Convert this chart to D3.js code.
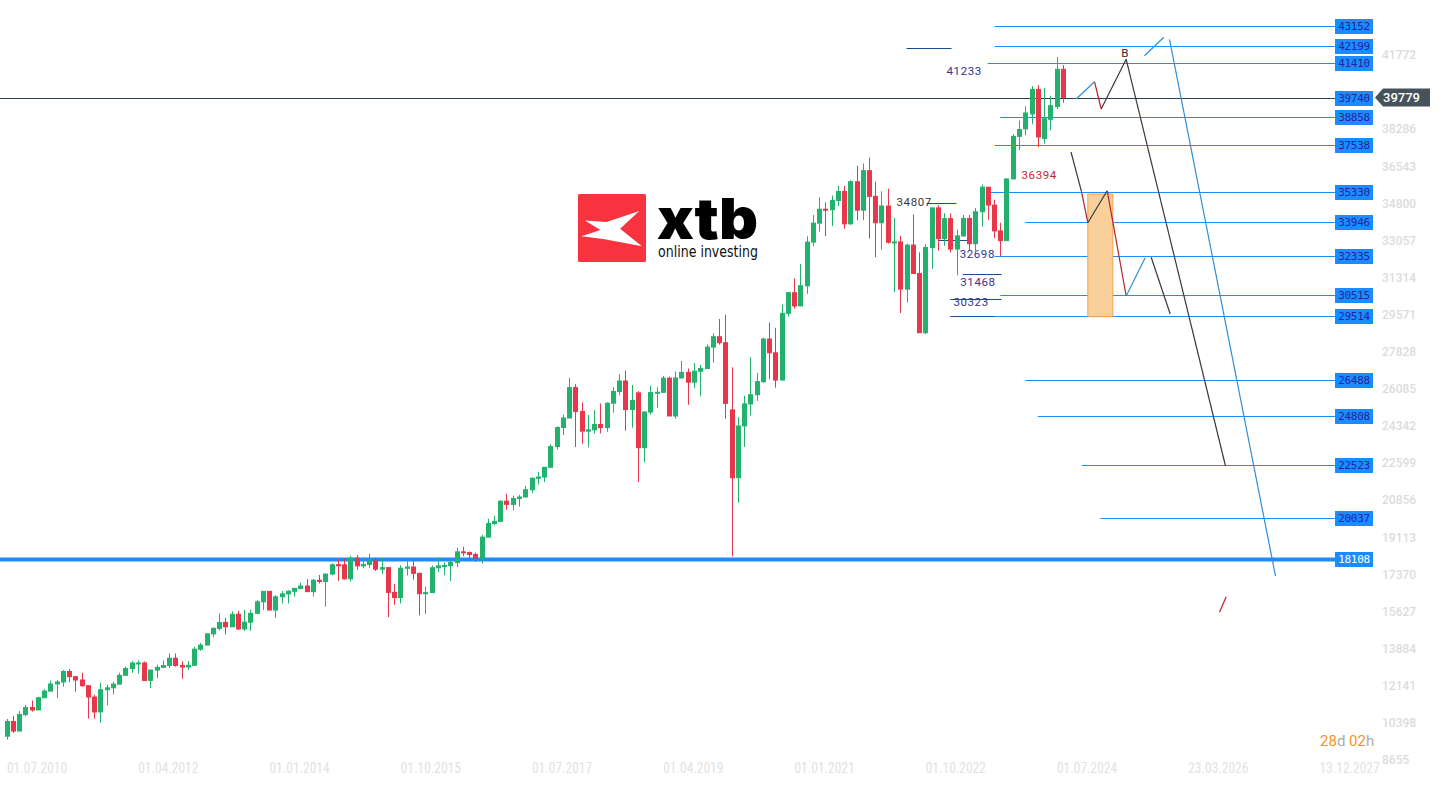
<!DOCTYPE html>
<html>
<head>
<meta charset="utf-8">
<script src="https://cdn.jsdelivr.net/npm/d3@7/dist/d3.min.js"></script>
<style>
  html, body { margin: 0; padding: 0; background: #fff; overflow: hidden; }
  svg { display: block; }
</style>
</head>
<body>
<svg width="1442" height="786"></svg>
<script>
// monthly candles, first bar = July 2010, last bar = August 2024
var opens = [
  9774, 10466, 10015, 10788, 11118, 11006,
  11578, 11892, 12226, 12320, 12811, 12570, 12414, 12143, 11614, 10913, 11955, 12046,
  12218, 12633, 12952, 13212, 13214, 12393, 12880, 13009, 13091, 13437, 13096, 13026,
  13104, 13861, 14054, 14579, 14840, 15116, 14910, 15500, 14810, 15130, 15546, 16086,
  16577, 15699, 16322, 16458, 16581, 16717, 16827, 16563, 17098, 17043, 17391, 17828,
  17823, 17165, 18133, 17776, 17841, 18011, 17620, 17690, 16528, 16285, 17664, 17720,
  17425, 16466, 16517, 17685, 17774, 17787, 17930, 18432, 18401, 18308, 18142, 19124,
  19763, 19864, 20812, 20663, 20941, 21009, 21350, 21891, 21948, 22405, 23377, 24272,
  24719, 26149, 25029, 24103, 24163, 24416, 24271, 25415, 25965, 26458, 25116, 25900,
  23327, 24999, 25916, 25929, 26593, 24815, 26600, 26864, 26403, 26917, 27046, 28051,
  28538, 28256, 25100, 21917, 24346, 25383, 25813, 26428, 28430, 27782, 26502, 29638,
  30606, 29983, 30932, 32982, 33875, 34529, 34503, 34935, 35361, 33844, 35820, 34484,
  36338, 35132, 33893, 34678, 32977, 32990, 30775, 32845, 31510, 28726, 32733, 34590,
  33147, 34086, 32657, 33274, 34098, 32908, 34408, 35560, 34722, 33508, 33053, 35951,
  37950, 38300, 39000, 40150, 37850, 38750, 39350, 41100
];
var highs = [
  10584, 10720, 10948, 11245, 11451, 11625,
  11980, 12391, 12419, 12876, 12929, 12570, 12753, 12143, 11716, 12284, 12187, 12328,
  12756, 13056, 13290, 13338, 13280, 12898, 13134, 13330, 13653, 13662, 13290, 13307,
  13969, 14150, 14586, 14888, 15542, 15340, 15634, 15658, 15709, 15721, 16174, 16588,
  16588, 16398, 16588, 16631, 16735, 16978, 17151, 17153, 17350, 17395, 17895, 18103,
  18121, 18244, 18289, 18175, 18351, 18157, 18138, 17716, 16933, 17799, 17978, 17996,
  17425, 16795, 17790, 18168, 17934, 18016, 18622, 18668, 18450, 18399, 19225, 19988,
  20126, 20851, 21169, 21070, 21113, 21535, 21929, 22179, 22420, 23485, 24328, 24876,
  26617, 26307, 25449, 24858, 25086, 25402, 25461, 26168, 26769, 26951, 26277, 25980,
  25040, 26241, 26156, 26696, 26667, 26907, 27398, 27046, 27306, 27218, 28175, 28701,
  29374, 29568, 27102, 24764, 25758, 27581, 26838, 28502, 29199, 28958, 30046, 30637,
  31272, 31961, 33259, 34257, 35091, 34849, 35171, 35631, 35631, 35892, 36565, 36679,
  36952, 35824, 35372, 35492, 34118, 33272, 32910, 34281, 32504, 32889, 34590, 34712,
  34342, 34334, 33572, 34257, 34257, 34588, 35679, 35579, 34978, 33893, 35953, 38050,
  38690, 39360, 40310, 40360, 40220, 39860, 41670, 41300
];
var lows = [
  9614, 9936, 10015, 10711, 10929, 11006,
  11578, 11892, 11555, 12093, 12311, 11862, 12093, 10604, 10597, 10404, 11231, 11735,
  12218, 12633, 12748, 12710, 12392, 12035, 12492, 12977, 12978, 13036, 12471, 12883,
  13104, 13784, 14054, 14434, 14740, 14552, 14910, 14760, 14719, 14719, 15509, 15703,
  15698, 15340, 16015, 16015, 16334, 16675, 16563, 16334, 16945, 15855, 17327, 17068,
  17136, 17038, 17585, 17658, 17684, 17535, 17399, 15370, 15942, 16013, 17320, 17128,
  15451, 15503, 16506, 17484, 17331, 17063, 17713, 18231, 17992, 17959, 17884, 19102,
  19678, 19831, 20413, 20379, 20554, 20997, 21197, 21600, 21709, 22405, 23242, 23921,
  24719, 23360, 23509, 23344, 23997, 23997, 24078, 24965, 25788, 24123, 24268, 21713,
  22639, 24883, 25208, 25890, 24815, 24680, 26600, 25339, 26120, 25743, 27046, 27325,
  28169, 24681, 18214, 20735, 23361, 24843, 25524, 26365, 26537, 26144, 26502, 29484,
  29857, 29983, 30548, 32787, 33473, 33271, 33741, 34680, 33613, 33785, 34006, 34006,
  33150, 32273, 32632, 32913, 30636, 29653, 30143, 31480, 28715, 28660, 31727, 32573,
  32812, 32500, 31429, 33235, 32586, 32553, 33705, 34029, 33169, 32327, 33053, 35951,
  37300, 38000, 38520, 37450, 37600, 38230, 39230, 39530
];
var closes = [
  10466, 10015, 10788, 11118, 11006, 11578,
  11892, 12226, 12320, 12811, 12570, 12414, 12143, 11614, 10913, 11955, 12046, 12218,
  12633, 12952, 13212, 13214, 12393, 12880, 13009, 13091, 13437, 13096, 13026, 13104,
  13861, 14054, 14579, 14840, 15116, 14910, 15500, 14810, 15130, 15546, 16086, 16577,
  15699, 16322, 16458, 16581, 16717, 16827, 16563, 17098, 17043, 17391, 17828, 17823,
  17165, 18133, 17776, 17841, 18011, 17620, 17690, 16528, 16285, 17664, 17720, 17425,
  16466, 16517, 17685, 17774, 17787, 17930, 18432, 18401, 18308, 18142, 19124, 19763,
  19864, 20812, 20663, 20941, 21009, 21350, 21891, 21948, 22405, 23377, 24272, 24719,
  26149, 25029, 24103, 24163, 24416, 24271, 25415, 25965, 26458, 25116, 25538, 23327,
  24999, 25916, 25929, 26593, 24815, 26600, 26864, 26403, 26917, 27046, 28051, 28538,
  28256, 25409, 21917, 24346, 25383, 25813, 26428, 28430, 27782, 26502, 29638, 30606,
  29983, 30932, 32982, 33875, 34529, 34503, 34935, 35361, 33844, 35820, 34484, 36338,
  35132, 33893, 34678, 32977, 32990, 30775, 32845, 31510, 28726, 32733, 34590, 33147,
  34086, 32657, 33274, 34098, 32908, 34408, 35560, 34722, 33508, 33053, 35951, 37950,
  38270, 39050, 40150, 37920, 38780, 39390, 41100, 39779
];
var lastPrice = 39779;

var yTicks = [41772, 40029, 38286, 36543, 34800, 33057, 31314, 29571, 27828, 26085,
              24342, 22599, 20856, 19113, 17370, 15627, 13884, 12141, 10398, 8655];
var xTickBars = [0, 21, 42, 63, 84, 105, 126, 147, 168, 189, 210];
var xTickLabels = ["01.07.2010", "01.04.2012", "01.01.2014", "01.10.2015", "01.07.2017",
                   "01.04.2019", "01.01.2021", "01.10.2022", "01.07.2024", "23.03.2026", "13.12.2027"];

// horizontal levels (price) and the bar where each ray starts
var levels     = [43152, 42199, 41410, 39740, 38858, 37538, 35330, 33946, 32335, 30515, 29514, 26488, 24808, 22523, 20037, 18108];
var levelStart = [158.1, 158.1, 157,   158.1, 159,   158.1, 157,   163,   158.1, 159,   158.1, 163,   165,   172,   175,   -2];

// short navy marks [bar from, bar to, price]
var marks = [[144, 151.2, 42100], [147.2, 152, 34807], [149, 154.2, 33082],
             [153, 159.2, 31468], [151, 159.2, 30323], [151, 158.1, 29514]];
// notes [text, bar, price]
var notesNavy = [["41233", 150.4, 41021], ["32698", 152.5, 32424], ["31468", 152.6, 31109], ["30323", 151.5, 30170]];
var notesDark = [["34807", 142.4, 34867], ["B", 179, 41866]];
var notesRed  = [["36394", 162.4, 36135]];

// projected path segments [[bar, price], [bar, price]]
var segBlue = [[[171.15, 39705], [174.08, 40518]], [[182.08, 41739], [185.17, 42604]],
               [[186.08, 42510], [203.04, 17298]], [[179.15, 30452], [182.19, 32251]]];
var segRed  = [[[174.08, 40518], [175.15, 39236]], [[172, 35351], [173.01, 33895]],
               [[176.11, 35398], [179.15, 30452]], [[194.08, 15593], [195.15, 16326]]];
var segDark = [[[175.15, 39236], [179.15, 41571]], [[179.15, 41571], [195.04, 22466]],
               [[170.32, 37216], [172, 35351]], [[173.01, 33895], [176.11, 35398]],
               [[183.15, 32270], [186.19, 29606]]];
var zone = [173.01, 177.01, 35240, 29480];

var svg = d3.select("svg");

var x = d3.scaleLinear().domain([0, 210]).range([6.5, 1319]);
var y = d3.scaleLinear().domain([8655, 41772]).range([760, 55]);
var lineEnd = 1335;
var snap = function (v) { return Math.round(v) + 0.5; };

var UP = "#23b26d", DOWN = "#e8374a", LEVEL = "#1e8cff", NAVY = "#14508f";

// y axis text (the one under the last price tag stays hidden)
svg.append("g").selectAll("text")
  .data(yTicks.filter(function (d) { return Math.abs(y(d) - y(lastPrice)) > 12; }))
  .enter().append("text")
  .attr("x", 1382).attr("y", function (d) { return y(d); })
  .attr("dy", "0.35em")
  .style("font", "500 12px Roboto, sans-serif")
  .style("fill", "#dcdcdc")
  .text(function (d) { return d; });

// x axis text
svg.append("g").selectAll("text").data(xTickBars).enter().append("text")
  .attr("x", function (d) { return x(d) + 0.5; }).attr("y", 773)
  .attr("textLength", 60).attr("lengthAdjust", "spacingAndGlyphs")
  .style("font", "14px 'Liberation Sans Narrow', 'Roboto Condensed', Roboto, sans-serif")
  .style("fill", "#e2e2e2")
  .text(function (d, i) { return xTickLabels[i]; });

// logo
var logo = svg.append("g").attr("transform", "translate(578,194)");
logo.append("rect").attr("width", 68).attr("height", 68).attr("rx", 1.5).attr("fill", "#f8323f");
var lx = d3.scaleLinear().range([0, 68]);
var xShape = [[0.10, 0.39], [0.42, 0.41], [0.90, 0.25], [0.62, 0.51], [0.94, 0.77], [0.37, 0.66], [0.05, 0.62], [0.33, 0.53]];
logo.append("path")
  .attr("d", d3.line().x(function (d) { return lx(d[0]); }).y(function (d) { return lx(d[1]); })(xShape) + "Z")
  .attr("fill", "#fff");
svg.append("text").attr("x", 657).attr("y", 239)
  .attr("textLength", 101).attr("lengthAdjust", "spacingAndGlyphs")
  .style("font", "900 57px Inter, Roboto, sans-serif").style("fill", "#000").text("xtb");
svg.append("text").attr("x", 658).attr("y", 257)
  .attr("textLength", 100).attr("lengthAdjust", "spacingAndGlyphs")
  .style("font", "400 15px 'DejaVu Sans', sans-serif").style("fill", "#111").text("online investing");

// level rays
var gLev = svg.append("g");
gLev.selectAll("line.lev").data(levels.filter(function (d) { return d !== 39740; })).enter().append("line")
  .attr("class", "lev")
  .attr("x1", function (d) { return Math.max(0, x(levelStart[levels.indexOf(d)])); })
  .attr("x2", lineEnd)
  .attr("y1", function (d) { return snap(y(d)); })
  .attr("y2", function (d) { return snap(y(d)); })
  .attr("stroke", LEVEL)
  .attr("stroke-width", function (d) { return d === 18108 ? 4 : 1; });
// dark price line across the chart, on the 39740 level
gLev.append("line")
  .attr("x1", 0).attr("x2", lineEnd).attr("y1", snap(y(39740))).attr("y2", snap(y(39740)))
  .attr("stroke", "#2f3e4e").attr("stroke-width", 1);

// navy marks
svg.append("g").selectAll("line").data(marks).enter().append("line")
  .attr("x1", function (d) { return x(d[0]); }).attr("x2", function (d) { return x(d[1]); })
  .attr("y1", function (d) { return snap(y(d[2])); })
  .attr("y2", function (d) { return snap(y(d[2])); })
  .attr("stroke", NAVY).attr("stroke-width", 1);

// orange zone
svg.append("rect")
  .attr("x", x(zone[0])).attr("width", x(zone[1]) - x(zone[0]))
  .attr("y", y(zone[2])).attr("height", y(zone[3]) - y(zone[2]))
  .attr("fill", "#f9cf9c").attr("stroke", "#f6a040").attr("stroke-width", 1);

// candles
var bars = d3.range(closes.length).map(function (i) {
  return { i: i, o: opens[i], h: highs[i], l: lows[i], c: closes[i] };
});
var gC = svg.append("g");
gC.selectAll("line").data(bars).enter().append("line")
  .attr("x1", function (d) { return snap(x(d.i)); })
  .attr("x2", function (d) { return snap(x(d.i)); })
  .attr("y1", function (d) { return y(d.h); }).attr("y2", function (d) { return y(d.l); })
  .attr("stroke", function (d) { return d.c >= d.o ? UP : DOWN; }).attr("stroke-width", 1);
gC.selectAll("rect").data(bars).enter().append("rect")
  .attr("x", function (d) { return Math.round(x(d.i)) - 1.5; })
  .attr("width", 4)
  .attr("y", function (d) { return y(Math.max(d.o, d.c)); })
  .attr("height", function (d) { return Math.max(1, Math.abs(y(d.o) - y(d.c))); })
  .attr("fill", function (d) { return d.c >= d.o ? UP : DOWN; })
  .attr("stroke", function (d) { return d.c >= d.o ? UP : DOWN; }).attr("stroke-width", 1);

// projected segments
function drawSegs(data, color) {
  svg.append("g").selectAll("line").data(data).enter().append("line")
    .attr("x1", function (d) { return x(d[0][0]); }).attr("y1", function (d) { return y(d[0][1]); })
    .attr("x2", function (d) { return x(d[1][0]); }).attr("y2", function (d) { return y(d[1][1]); })
    .attr("stroke", color).attr("stroke-width", 1.2);
}
drawSegs(segDark, "#333a40");
drawSegs(segRed, "#b5222a");
drawSegs(segBlue, "#2f8ed8");

// notes
function drawNotes(data, color, anchor) {
  svg.append("g").selectAll("text").data(data).enter().append("text")
    .attr("x", function (d) { return x(d[1]); }).attr("y", function (d) { return y(d[2]); })
    .attr("dy", "0.35em").attr("text-anchor", anchor)
    .style("font", "11.5px Roboto, sans-serif").style("letter-spacing", "0.6px")
    .style("fill", color)
    .text(function (d) { return d[0]; });
}
drawNotes(notesNavy, "#33338a", "start");
drawNotes(notesDark.slice(0, 1), "#3a3a3a", "start");
drawNotes(notesDark.slice(1), "#2a2a2a", "middle");
drawNotes(notesRed, "#c0282d", "start");

// level labels
var gL = svg.append("g").selectAll("g").data(levels).enter().append("g")
  .attr("transform", function (d) { return "translate(" + lineEnd + "," + snap(y(d)) + ")"; });
gL.append("rect").attr("x", 0).attr("y", -7.5).attr("width", 38).attr("height", 15).attr("fill", "#1a8cff");
gL.append("text").attr("x", 19).attr("dy", "0.36em").attr("text-anchor", "middle")
  .style("font", "11px 'DejaVu Sans Mono', monospace").style("letter-spacing", "-0.3px")
  .style("fill", function (d) { return d === 18108 ? "#ffffff" : "#25259a"; })
  .text(function (d) { return d; });

// last price tag
var yl = snap(y(lastPrice));
svg.append("path")
  .attr("d", d3.line()([[1375, yl], [1383, yl - 9], [1430, yl - 9], [1430, yl + 9], [1383, yl + 9]]) + "Z")
  .attr("fill", "#46535d");
svg.append("text").attr("x", 1383).attr("y", yl).attr("dy", "0.36em")
  .style("font", "500 13px Roboto, sans-serif").style("fill", "#fff").text(lastPrice);

// countdown
var cd = svg.append("text").attr("x", 1320).attr("y", 746).style("font", "15px Roboto, sans-serif");
[["28", "#f7931e"], ["d ", "#a9adb1"], ["02", "#f7931e"], ["h", "#a9adb1"]].forEach(function (p) {
  cd.append("tspan").style("fill", p[1]).text(p[0]);
});
</script>
</body>
</html>
